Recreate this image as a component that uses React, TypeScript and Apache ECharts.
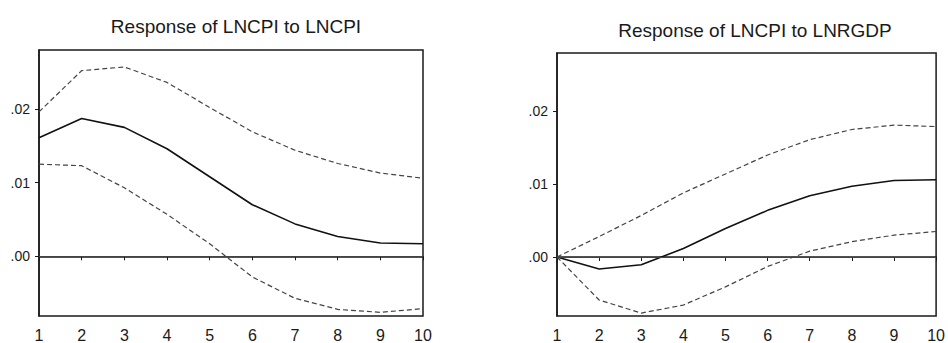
import React, { useEffect, useRef } from "react";
import * as echarts from "echarts";

const periods = [1, 2, 3, 4, 5, 6, 7, 8, 9, 10];

const cpiResp = [0.0161, 0.0187, 0.0175, 0.0146, 0.0108, 0.0070, 0.0044, 0.0027, 0.0018, 0.0017];
const cpiUpper = [0.0196, 0.0252, 0.0257, 0.0236, 0.0202, 0.0169, 0.0144, 0.0126, 0.0113, 0.0106];
const cpiLower = [0.0125, 0.0123, 0.0093, 0.0057, 0.0017, -0.0028, -0.0057, -0.0072, -0.0076, -0.0071];

const gdpResp = [0.0, -0.00165, -0.00107, 0.00116, 0.0039, 0.0064, 0.0084, 0.0097, 0.0105, 0.0106];
const gdpUpper = [0.0, 0.0028, 0.0057, 0.0088, 0.0114, 0.0140, 0.0161, 0.0175, 0.0181, 0.0179];
const gdpLower = [0.0, -0.0059, -0.0077, -0.0066, -0.0041, -0.0013, 0.0008, 0.0021, 0.0030, 0.0035];

const yTicks = [0, 0.01, 0.02];
const titles = ["Response of LNCPI to LNCPI", "Response of LNCPI to LNRGDP"];

const pairs = (ys: number[]) => periods.map((p, i) => [p, ys[i]]);

export default function App() {
  const ref = useRef<HTMLDivElement>(null);
  useEffect(() => {
    if (!ref.current) return;
    const chart = echarts.init(ref.current, undefined, { renderer: "svg" });
    const fontFamily = "'Liberation Sans', Arial, sans-serif";
    const ink = "#1a1a1a";
    const grids = [
      { left: 39, top: 50, width: 384, height: 270 },
      { left: 557, top: 53, width: 383, height: 270 },
    ];
    const xAxis = grids.map((_, i) => ({
      type: "value",
      gridIndex: i,
      min: 1,
      max: 10,
      interval: 1,
      axisLine: { show: true, lineStyle: { color: ink, width: 1.5 } },
      axisTick: { show: true, inside: false, length: 4, lineStyle: { color: ink, width: 1 } },
      axisLabel: { color: ink, fontSize: 16, fontFamily, margin: 11 },
      splitLine: { show: false },
    }));
    const yAxis = grids.map((_, i) => ({
      type: "value",
      gridIndex: i,
      min: -0.0081,
      max: 0.028,
      splitNumber: 4,
      axisLine: { show: true, lineStyle: { color: ink, width: 1.5 } },
      axisTick: { show: true, inside: false, length: 4, customValues: yTicks, lineStyle: { color: ink, width: 1 } },
      axisLabel: {
        color: ink,
        fontSize: 14,
        fontFamily,
        margin: 9,
        customValues: yTicks,
        formatter: (v: number) => v.toFixed(2).replace(/^0/, "").replace(/^-0/, "-"),
      },
      splitLine: { show: false },
    }));
    const sets = [
      [cpiResp, cpiUpper, cpiLower],
      [gdpResp, gdpUpper, gdpLower],
    ];
    const series: any[] = [];
    sets.forEach((s, i) => {
      series.push({
        type: "line",
        xAxisIndex: i,
        yAxisIndex: i,
        data: pairs(s[0]),
        symbol: "none",
        lineStyle: { color: "#111", width: 1.6 },
        markLine: {
          silent: true,
          symbol: "none",
          label: { show: false },
          lineStyle: { color: "#444", width: 1, type: "solid" },
          data: [{ yAxis: 0 }],
        },
      });
      [s[1], s[2]].forEach((d) =>
        series.push({
          type: "line",
          xAxisIndex: i,
          yAxisIndex: i,
          data: pairs(d),
          symbol: "none",
          lineStyle: { color: "#444", width: 1.2, type: [5, 3] },
        })
      );
    });
    chart.setOption({
      animation: false,
      backgroundColor: "#ffffff",
      title: [
        {
          text: titles[0],
          left: 231,
          top: 12,
          textAlign: "center",
          textStyle: { color: ink, fontSize: 19, fontWeight: "normal", fontFamily },
        },
        {
          text: titles[1],
          left: 750,
          top: 16,
          textAlign: "center",
          textStyle: { color: ink, fontSize: 19, fontWeight: "normal", fontFamily },
        },
      ],
      grid: grids.map((g) => ({ ...g, show: true, borderColor: ink, borderWidth: 1.5, backgroundColor: "transparent" })),
      xAxis,
      yAxis,
      series,
    });
    return () => chart.dispose();
  }, []);
  return <div ref={ref} style={{ position: "absolute", left: 0, top: 0, width: 948, height: 343 }} />;
}
